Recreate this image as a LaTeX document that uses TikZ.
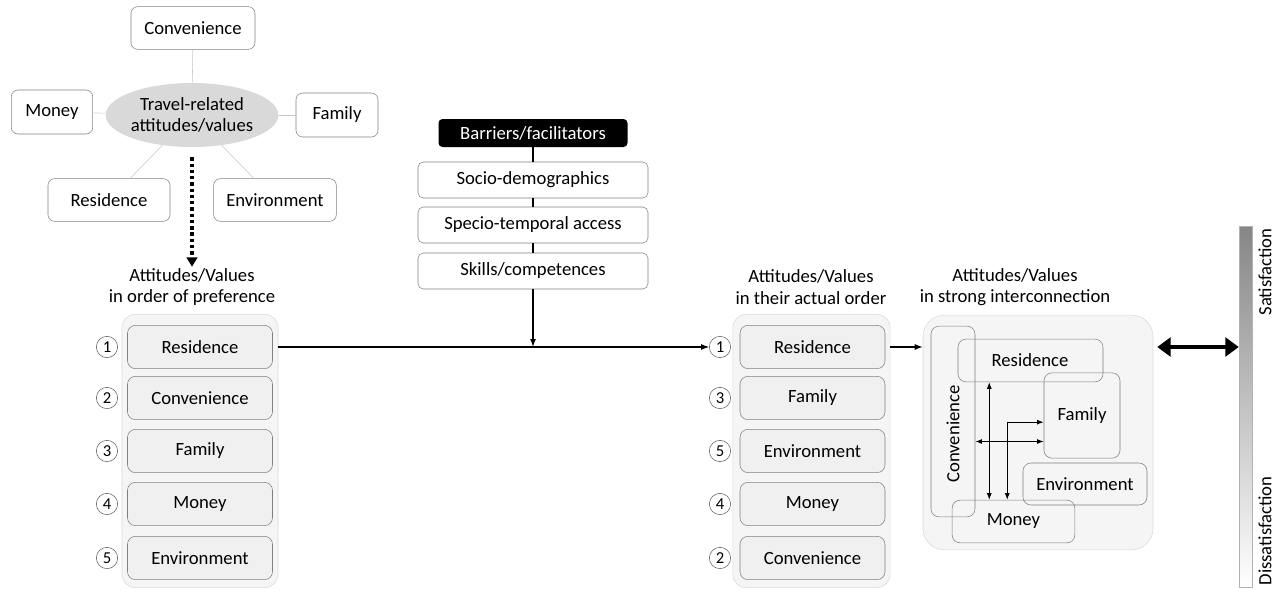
\documentclass[tikz,border=0pt]{standalone}
\usepackage{fontspec}
\setmainfont{Carlito}
\usetikzlibrary{arrows.meta}
\usetikzlibrary{shapes.geometric}
\usetikzlibrary{positioning}

\begin{document}
\begin{tikzpicture}[x=0.75pt, y=-0.75pt, font=\fontsize{14}{16}\selectfont]
		\tikzset{trait/.style={shape = rectangle, draw = gray, fill = white, rounded corners = 5pt, minimum height = 32pt}}
		\tikzset{item/.style={shape = rectangle, draw = gray, fill = gray!12, rounded corners = 6pt, minimum width = 108.75pt, minimum height = 32.5pt}}
		\tikzset{rank/.style={shape = circle, draw = gray!70!black, fill = white, inner sep = 0pt, minimum size = 16pt, font = \fontsize{12.5}{14}\selectfont}}
		\tikzset{holder/.style={shape = rectangle, draw = gray!30, fill = gray!8, rounded corners = 10pt}}
		\tikzset{barrier/.style={shape = rectangle, draw = gray, fill = white, rounded corners = 4pt, minimum width = 172.5pt, minimum height = 27pt}}
		\tikzset{linked/.style={shape = rectangle, draw = gray, rounded corners = 6pt}}
		\tikzset{heading/.style={align = center, inner sep = 1pt}}
		\useasboundingbox (0, 0) rectangle (1283, 590);
		%travel-related attitudes
		\node[ellipse, fill = gray!30, minimum width = 119pt, minimum height = 48pt, inner sep = 0pt, align = center] (travel) at (192, 115) {Travel-related\\attitudes/values};
		\node[trait, minimum width = 93pt] (conv) at (193, 28) {Convenience};
		\node[trait, minimum width = 61pt, minimum height = 33pt] (money) at (52, 112) {Money};
		\node[trait, minimum width = 61.5pt, minimum height = 33pt] (fam) at (337, 115) {Family};
		\node[trait, minimum width = 91.5pt] (res) at (109, 200) {Residence};
		\node[trait, minimum width = 92pt] (env) at (275, 200) {Environment};
		\draw[gray!45] (travel) -- (conv);
		\draw[gray!45] (travel) -- (money);
		\draw[gray!45] (travel) -- (fam);
		\draw[gray!45] (travel) -- (res);
		\draw[gray!45] (travel) -- (env);
		%order of preference
		\node[heading] (pref) at (192, 287) {Attitudes/Values\\in order of preference};
		\draw[line width = 2.5pt, dash pattern = on 2.5pt off 2.2pt, -{Triangle[length = 7pt, width = 8pt]}] ([yshift = -7.5pt]travel.south) -- (pref.north);
		\node[holder, minimum width = 117pt, minimum height = 205pt] (prefbox) at (200, 451) {};
		\node[item] (p1) at (200, 347) {Residence};
		\node[item] (p2) at (200, 398) {Convenience};
		\node[item] (p3) at (200, 451) {Family};
		\node[item] (p4) at (200, 504) {Money};
		\node[item] (p5) at (200, 558) {Environment};
		\node[rank] (pn1) at (107, 347) {1};
		\node[rank] (pn2) at (107, 398) {2};
		\node[rank] (pn3) at (107, 451) {3};
		\node[rank] (pn4) at (107, 504) {4};
		\node[rank] (pn5) at (107, 558) {5};
		%barriers
		\node[shape = rectangle, fill = black, text = white, rounded corners = 3pt, minimum width = 141.75pt, minimum height = 21pt] (barr) at (533, 133) {Barriers/facilitators};
		\node[barrier] (socio) at (533, 180) {Socio-demographics};
		\node[barrier] (spec) at (533, 225) {Specio-temporal access};
		\node[barrier] (skill) at (533, 271) {Skills/competences};
		\draw[line width = 1.1pt] (barr) -- (socio);
		\draw[line width = 1.1pt] (socio) -- (spec);
		\draw[line width = 1.1pt] (spec) -- (skill);
		%actual order
		\node[heading] (act) at (811, 287) {Attitudes/Values\\in their actual order};
		\node[holder, minimum width = 118pt, minimum height = 205pt] (actbox) at (811.5, 451) {};
		\node[item] (a1) at (812.5, 347) {Residence};
		\node[item] (a2) at (812.5, 398) {Family};
		\node[item] (a3) at (812.5, 451) {Environment};
		\node[item] (a4) at (812.5, 504) {Money};
		\node[item] (a5) at (812.5, 558) {Convenience};
		\node[rank] (an1) at (720, 347) {1};
		\node[rank] (an2) at (720, 398) {3};
		\node[rank] (an3) at (720, 451) {5};
		\node[rank] (an4) at (720, 504) {4};
		\node[rank] (an5) at (720, 558) {2};
		\draw[line width = 0.8pt, -{Latex[length = 6pt]}] (prefbox.east |- p1) -- (an1.west);
		\draw[line width = 1.1pt, -{Latex[length = 6pt]}] (skill.south) -- (skill.south |- p1);
		%strong interconnection
		\node[heading] (inter) at (1015, 287) {Attitudes/Values\\in strong interconnection};
		\node[holder, rounded corners = 16pt, minimum width = 172.5pt, minimum height = 176pt] (clu) at (1038, 432.5) {};
		\node[linked, rotate = 90, minimum width = 143pt, minimum height = 33pt] (cconv) at (953, 421.5) {};
		\node[rotate = 90] at (953, 434) {Convenience};
		\node[linked, minimum width = 108.75pt, minimum height = 32pt] (cres) at (1030.5, 360.5) {};
		\node at (1030, 360) {Residence};
		\node[linked, minimum width = 57pt, minimum height = 64pt] (cfam) at (1082, 415.5) {Family};
		\node[linked, minimum width = 93pt, minimum height = 31.5pt] (cenv) at (1085, 484) {Environment};
		\node[linked, minimum width = 92pt, minimum height = 32pt] (cmon) at (1013.5, 521.5) {Money};
		\draw[line width = 0.8pt, -{Latex[length = 6pt]}] (actbox.east |- a1) -- (clu.west |- a1);
		\draw[line width = 0.8pt, {Latex[length = 5pt]}-{Latex[length = 5pt]}] ([xshift = 10.5pt]cconv.south |- cres.south) -- ([xshift = 10.5pt]cconv.south |- cmon.north);
		\draw[line width = 0.8pt, {Latex[length = 5pt]}-{Latex[length = 5pt]}] ([yshift = -5pt]cfam.west) -| ([xshift = 24pt]cconv.south |- cmon.north);
		\draw[line width = 0.8pt, {Latex[length = 5pt]}-{Latex[length = 5pt]}] ([yshift = -19.5pt]cfam.west) -- ([yshift = -19.5pt]cfam.west -| cconv.south);
		%satisfaction scale
		\node[shape = rectangle, draw = gray!60, top color = gray!95, middle color = gray!22, bottom color = white, minimum width = 9.75pt, minimum height = 270.75pt, inner sep = 0pt] (bar) at (1245.5, 406.5) {};
		\node[rotate = 90] (sat) at (1265, 272) {Satisfaction};
		\node[rotate = 90] (dis) at (1265, 531) {Dissatisfaction};
		\draw[line width = 3pt, {Triangle[length = 10pt, width = 14pt]}-{Triangle[length = 10pt, width = 14pt]}] ([xshift = 3pt]clu.east |- a1) -- (bar.west |- a1);
		\end{tikzpicture}
\end{document}
